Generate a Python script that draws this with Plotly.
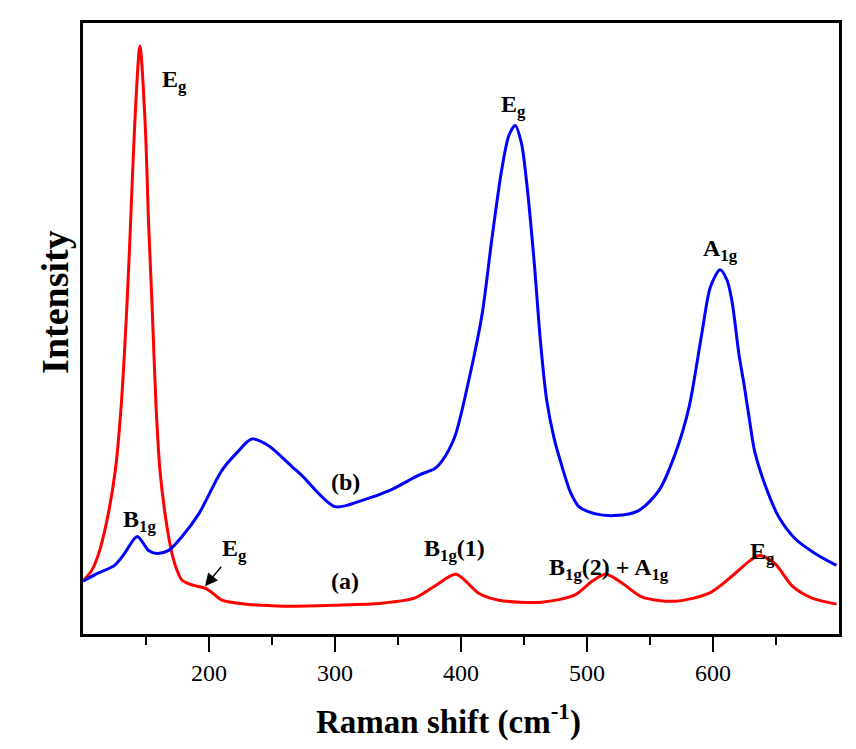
import plotly.graph_objects as go

# Curve (a) - red
shift_a = [100, 107, 112.5, 119, 125.6, 130.4, 134.9, 137.7, 141, 145.2, 149.4, 152.1, 154.8,
           157.9, 161.1, 165.9, 170.6, 174.6, 178.6, 185, 190.5, 196.8, 203, 210.3, 230, 260,
           300, 337, 363, 379, 396, 414, 430, 464, 490, 504, 515, 528, 544, 570, 597, 615,
           628.6, 637, 649, 663, 678.6, 698]
int_a = [53, 64, 81, 114, 164, 231, 331, 411, 511, 591, 511, 411, 331,
         231, 164, 114, 81, 64, 54, 50, 48, 46, 41, 34, 30, 28,
         29, 31, 36, 48, 60, 41, 34, 32, 39, 53, 60, 51, 37, 33, 41, 58,
         73, 79, 71, 48, 36, 30]

# Curve (b) - blue
shift_b = [100, 110, 125, 133, 143, 152, 158.7, 168, 178.6, 192, 210, 222, 234, 247.6, 266,
           274, 300, 321, 343, 361, 367, 379, 385, 395, 406, 416.7, 424.6, 432.5, 438, 443,
           448, 452, 458, 463, 468, 474, 480, 487, 493.6, 506, 522, 541, 557, 570, 581, 591,
           598, 605.6, 611, 615, 620.6, 624.6, 628.6, 633, 641, 652, 665, 681, 698]
int_b = [53, 60, 69, 81, 98, 84, 81, 84, 98, 121, 164, 182, 196, 189, 168,
         159, 128, 134, 144, 156, 160, 166, 174, 198, 254, 321, 398, 468, 501, 511,
         493, 455, 375, 295, 235, 196, 169, 142, 128, 121, 119, 124, 144, 181, 228, 301,
         349, 366, 356, 335, 281, 251, 218, 184, 151, 118, 96, 81, 69]

x_ticks = [200, 300, 400, 500, 600]
x_minor = [150, 250, 350, 450, 550, 650]

FONT = "Liberation Serif"
ANN_SIZE = 24

fig = go.Figure()
fig.add_trace(go.Scatter(x=shift_a, y=int_a, mode="lines", line=dict(color="#ff0000", width=3, shape="spline", smoothing=0.8)))
fig.add_trace(go.Scatter(x=shift_b, y=int_b, mode="lines", line=dict(color="#0000ff", width=3, shape="spline", smoothing=0.8)))

ann = [
    ("E<sub>g</sub>", 173, 556),
    ("E<sub>g</sub>", 442, 531),
    ("A<sub>1g</sub>", 605.6, 386),
    ("B<sub>1g</sub>", 145, 114),
    ("(a)", 308, 53),
    ("(b)", 308, 153),
    ("B<sub>1g</sub>(1)", 395, 84),
    ("B<sub>1g</sub>(2) + A<sub>1g</sub>", 517.5, 65),
    ("E<sub>g</sub>", 639, 81),
]
for t, x, y in ann:
    fig.add_annotation(x=x, y=y, text="<b>" + t + "</b>", showarrow=False,
                       font=dict(family=FONT, size=ANN_SIZE, color="black"))

fig.add_annotation(x=196.8, y=48, text="<b>E<sub>g</sub></b>", showarrow=True,
                   ax=30, ay=-36, arrowhead=2, arrowsize=1.8, arrowwidth=1.4, arrowcolor="black",
                   font=dict(family=FONT, size=ANN_SIZE, color="black"))

# axis titles as annotations (positioned like the reference)
fig.add_annotation(xref="paper", yref="paper", x=0.483, y=-0.14, xanchor="center", yanchor="middle",
                   text="<b>Raman shift (cm<sup>-1</sup>)</b>", showarrow=False,
                   font=dict(family=FONT, size=33, color="black"))
fig.add_annotation(xref="paper", yref="paper", x=-0.038, y=0.544, xanchor="center", yanchor="middle",
                   text="<b>Intensity</b>", textangle=-90, showarrow=False,
                   font=dict(family=FONT, size=38, color="black"))

fig.update_layout(
    width=856, height=749,
    margin=dict(l=75, r=25, t=12, b=123),
    paper_bgcolor="white", plot_bgcolor="white",
    showlegend=False,
    font=dict(family=FONT, color="black"),
)
fig.update_xaxes(
    range=[100, 700], showgrid=False, zeroline=False,
    showline=True, mirror=True, linecolor="black", linewidth=2.5,
    ticks="outside", ticklen=15, tickwidth=2, tickcolor="black",
    tickvals=x_ticks, ticktext=[str(v) for v in x_ticks],
    tickfont=dict(family=FONT, size=24, color="black"),
    minor=dict(tickvals=x_minor, ticks="outside", ticklen=8, tickwidth=2, tickcolor="black"),
)
fig.update_yaxes(
    range=[0, 614], showgrid=False, zeroline=False,
    showline=True, mirror=True, linecolor="black", linewidth=2.5,
    showticklabels=False, ticks="",
)

fig.write_html("out.html")
